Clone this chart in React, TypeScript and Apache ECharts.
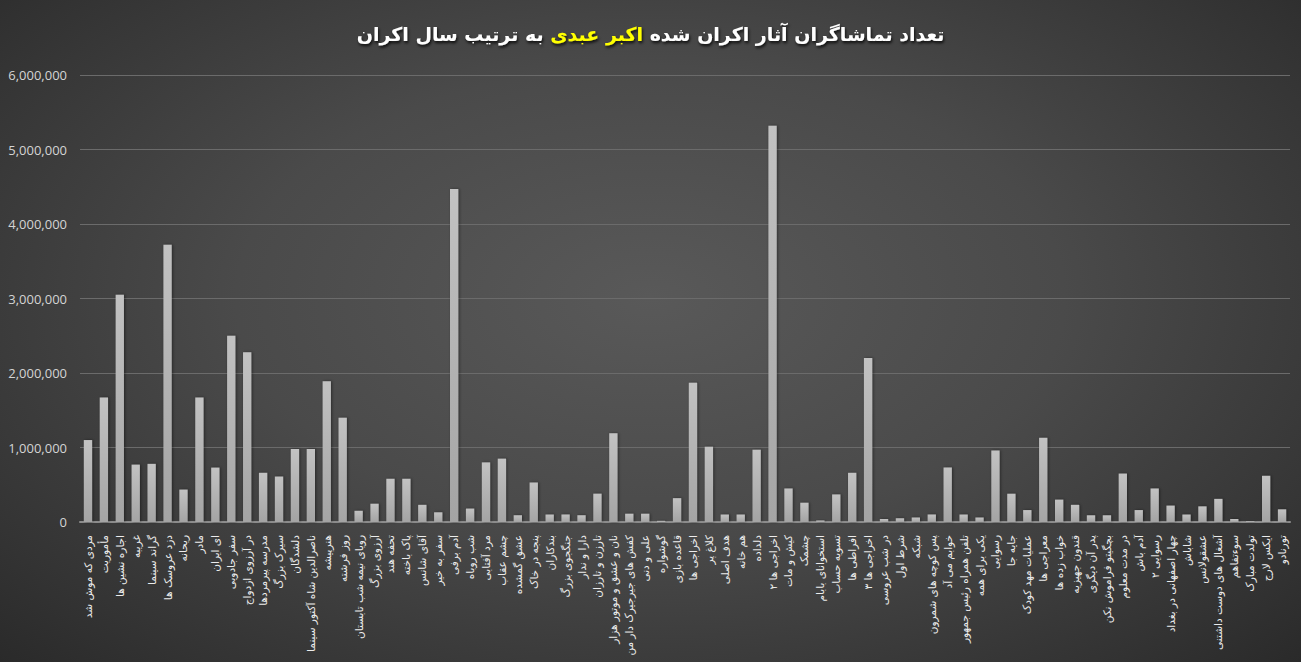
import React, { useEffect, useRef } from "react";
import * as echarts from "echarts";

const films: string[] = [
  "مردی که موش شد",
  "مأموریت",
  "اجاره نشین ها",
  "غریبه",
  "گراند سینما",
  "دزد عروسک ها",
  "ریحانه",
  "مادر",
  "ای ایران",
  "سفر جادویی",
  "در آرزوی ازدواج",
  "مدرسه پیرمردها",
  "سیرک بزرگ",
  "دلشدگان",
  "ناصرالدین شاه آکتور سینما",
  "هنرپیشه",
  "روز فرشته",
  "رویای نیمه شب تابستان",
  "آرزوی بزرگ",
  "تحفه هند",
  "پاک باخته",
  "آقای شانس",
  "سفر به خیر",
  "آدم برفی",
  "شب روباه",
  "مرد آفتابی",
  "چشم عقاب",
  "عشق گمشده",
  "پنجه در خاک",
  "بندکاران",
  "جنگجوی بزرگ",
  "دارا و ندار",
  "تارزن و تارزان",
  "نان و عشق و موتور هزار",
  "کفش های جیرجیرک دار من",
  "علی و دنی",
  "گوشواره",
  "قاعده بازی",
  "اخراجی ها",
  "کلاغ پر",
  "هدف اصلی",
  "هم خانه",
  "دلداده",
  "اخراجی ها ۲",
  "کیش و مات",
  "چشمک",
  "استخوانای بابام",
  "تسویه حساب",
  "افراطی ها",
  "اخراجی ها ۳",
  "در شب عروسی",
  "شرط اول",
  "شبکه",
  "پس کوچه های شمرون",
  "خوابم می آد",
  "تلفن همراه رئیس جمهور",
  "یکی برای همه",
  "رسوایی",
  "جایه جا",
  "عملیات مهد کودک",
  "معراجی ها",
  "خواب زده ها",
  "قندون جهیزیه",
  "پدر آن دیگری",
  "بچگیتو فراموش نکن",
  "در مدت معلوم",
  "آدم باش",
  "رسوایی ۲",
  "چهار اصفهانی در بغداد",
  "شاباش",
  "عشقولانس",
  "آشغال های دوست داشتنی",
  "سوءتفاهم",
  "تولدت مبارک",
  "ایکس لارج",
  "تورنادو",
];

const viewers: number[] = [
  1100000, 1670000, 3050000, 770000, 780000, 3720000, 435000, 1670000, 730000, 2500000,
  2280000, 660000, 610000, 980000, 980000, 1890000, 1400000, 150000, 245000, 580000,
  580000, 230000, 130000, 4470000, 180000, 800000, 850000, 90000, 530000, 100000,
  100000, 90000, 380000, 1190000, 110000, 110000, 15000, 320000, 1870000, 1010000,
  100000, 100000, 970000, 5320000, 450000, 260000, 20000, 370000, 660000, 2200000,
  40000, 50000, 60000, 100000, 730000, 100000, 60000, 960000, 380000, 160000,
  1130000, 300000, 230000, 90000, 90000, 650000, 160000, 450000, 220000, 100000,
  210000, 310000, 40000, 10000, 620000, 170000,
];

const yTicks: number[] = [0, 1000000, 2000000, 3000000, 4000000, 5000000, 6000000];

const titleRight = "تعداد تماشاگران آثار اکران شده";
const titleName = "اکبر عبدی";
const titleLeft = "به ترتیب سال اکران";

export default function App() {
  const ref = useRef<HTMLDivElement>(null);

  useEffect(() => {
    document.body.style.margin = "0";
    const chart = echarts.init(ref.current!, null, { renderer: "svg" });
    const titleStyle = {
      fontSize: 19,
      fontWeight: "bold",
      fontFamily: "DejaVu Sans",
      textShadowColor: "rgba(0,0,0,0.85)",
      textShadowBlur: 3,
      textShadowOffsetX: 1,
      textShadowOffsetY: 2,
    };
    chart.setOption({
      animation: false,
      backgroundColor: "transparent",
      grid: { left: 80, right: 11, top: 75, bottom: 140 },
      graphic: [
        {
          type: "text",
          left: "center",
          top: 24,
          style: {
            text: `{w|${titleLeft} }{y|${titleName}}{w| ${titleRight}}`,
            rich: {
              w: { ...titleStyle, fill: "#ffffff" },
              y: { ...titleStyle, fill: "#ffff00" },
            },
          },
        },
      ],
      xAxis: {
        type: "category",
        data: films,
        boundaryGap: true,
        axisLine: { show: true, lineStyle: { color: "#8c8c8c", width: 2 } },
        axisTick: { show: false },
        axisLabel: {
          interval: 0,
          rotate: 90,
          margin: 13,
          color: "#ececec",
          fontSize: 10.5,
          fontFamily: "DejaVu Sans",
        },
        splitLine: { show: false },
      },
      yAxis: {
        type: "value",
        min: yTicks[0],
        max: yTicks[yTicks.length - 1],
        interval: 1000000,
        axisLine: { show: false },
        axisTick: { show: false },
        axisLabel: {
          color: "#d4d4d4",
          fontSize: 13,
          fontFamily: "Open Sans",
          margin: 13,
          formatter: (v: number) => v.toLocaleString("en-US"),
        },
        splitLine: { lineStyle: { color: "#6b6b6b", width: 1 } },
      },
      series: [
        {
          type: "bar",
          data: viewers,
          barCategoryGap: "48%",
          itemStyle: {
            color: new echarts.graphic.LinearGradient(0, 0, 0, 1, [
              { offset: 0, color: "#c2c2c2" },
              { offset: 1, color: "#a4a4a4" },
            ]),
            shadowColor: "rgba(0,0,0,0.45)",
            shadowBlur: 3,
            shadowOffsetX: 1,
            shadowOffsetY: 0,
          },
        },
      ],
    });
    return () => chart.dispose();
  }, []);

  return (
    <div
      style={{
        position: "absolute",
        left: 0,
        top: 0,
        width: 1301,
        height: 662,
        background:
          "radial-gradient(ellipse at 50% 45%, #595959 0%, #4a4a4a 45%, #333333 85%, #2a2a2a 100%)",
      }}
    >
      <div ref={ref} style={{ width: 1301, height: 662 }} />
    </div>
  );
}
